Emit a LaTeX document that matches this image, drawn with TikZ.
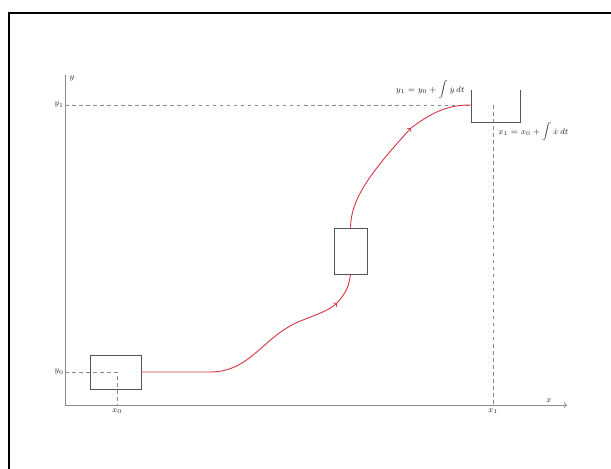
\documentclass[tikz,border=0pt]{standalone}
\usepackage{amsmath}
\usepackage{xcolor}
\usetikzlibrary{positioning}
\definecolor{axis}{HTML}{8A8A8A}
\definecolor{boxc}{HTML}{555555}
\definecolor{traj}{HTML}{D93A4A}
\definecolor{ink}{HTML}{222222}

\begin{document}
\begin{tikzpicture}[x=0.03cm, y=-0.03cm,
    state/.style={draw=boxc, thick, inner sep=0pt},
    guide/.style={axis, dashed, thin},
    path/.style={traj, thick},
    lbl/.style={ink, font=\scriptsize, inner sep=1pt}]

  \useasboundingbox (0,0) rectangle (611,468);
  % outer frame (runs off the right and bottom edge)
  \draw[line width=1.3pt] (9,500) -- (9,13) -- (640,13);

  % axes
  \coordinate (o) at (65,405);
  \coordinate (ytop) at (65,75);
  \coordinate (xend) at (567,405);
  \draw[axis, thick] (ytop) -- (o);
  \draw[axis, thick, ->] (o) -- (xend);
  \node[lbl, right] (ylab) at (68,79) {$y$};
  \node[lbl, above] (xlab) at (549,404) {$x$};

  % start state
  \node[state, minimum width=1.53cm, minimum height=1.02cm] (s0) at (115.5,372) {};
  \coordinate (p0) at (117,372);
  \draw[guide] (o |- p0) -- (p0) -- (p0 |- o);
  \node[lbl, left] (y0) at (o |- p0) {$y_0$};
  \node[lbl, below=2pt] (x0) at (p0 |- o) {$x_0$};

  % intermediate state
  \node[state, minimum width=0.99cm, minimum height=1.38cm] (s1) at (350.5,251) {};

  % final state (open box)
  \coordinate (f) at (471,105);
  \coordinate (p1) at (493,105);
  \draw[boxc, thick] (471,90) -- (471,122) -- (520,122) -- (520,90);
  \draw[guide] (o |- p1) -- (f);
  \draw[guide] (p1) -- (p1 |- o);
  \node[lbl, left] (y1) at (o |- p1) {$y_1$};
  \node[lbl, below=2pt] (x1) at (p1 |- o) {$x_1$};
  \node[lbl, left] (ydot) at (466,90) {$y_1 = y_0 + \displaystyle\int \dot{y}\,dt$};
  \node[lbl, right] (xdot) at (497,132) {$x_1 = x_0 + \displaystyle\int \dot{x}\,dt$};

  % trajectory
  \coordinate (a1) at (337,303);
  \coordinate (a2) at (411,128);
  \draw[path, ->] (s0.east) -- (210,372) .. controls (250,372) and (262,338) .. (298,322)
    .. controls (320,313) and (328,311) .. (a1);
  \draw[path] (a1) .. controls (347,292) and (349,285) .. (s1.south);
  \draw[path, ->] (s1.north) .. controls (351,200) and (368,175) .. (a2);
  \draw[path] (a2) .. controls (435,110) and (450,105) .. (f);
\end{tikzpicture}
\end{document}
